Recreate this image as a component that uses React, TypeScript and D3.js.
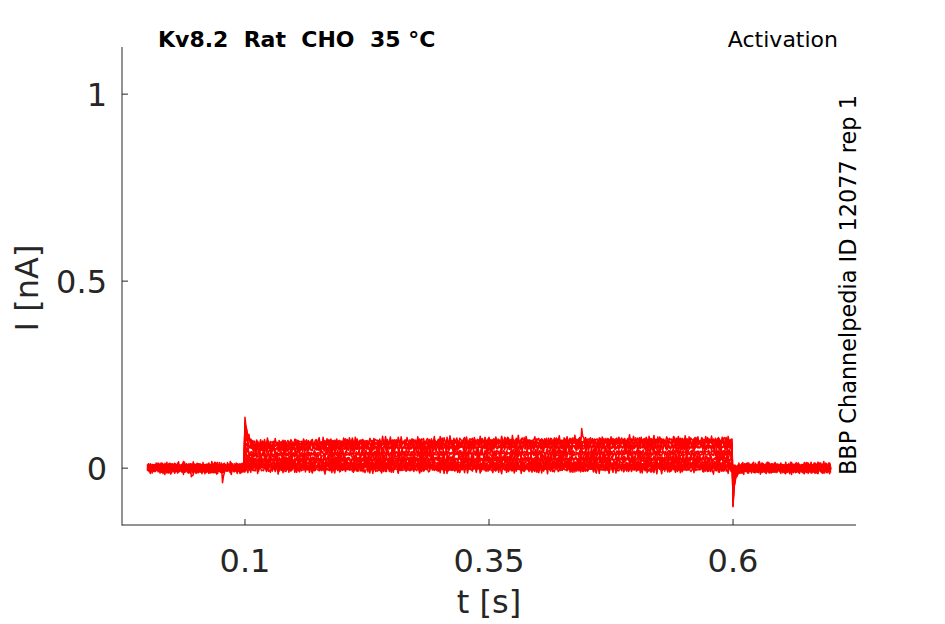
import * as d3 from "d3";

// ─── Data ─────────────────────────────────────────────────────────────────────

const TITLE = "Kv8.2  Rat  CHO  35 °C";
const PROTOCOL = "Activation";
const SOURCE = "BBP Channelpedia ID 12077 rep 1";

const X_TICKS = [0.1, 0.35, 0.6];
const Y_TICKS = [0, 0.5, 1];

const DT = 0.001; // s
const T_END = 0.7;
const STEP_ON = 0.1;
const STEP_OFF = 0.6;

// steady current of each sweep at the end of the step (nA)
const SWEEP_LEVELS = [0.0, 0.0, 0.003, 0.008, 0.014, 0.021, 0.029, 0.037, 0.045, 0.053, 0.06, 0.066, 0.071, 0.076];

// holding offset of each sweep (pA)
const BASE_OFFSET = [2, -3, 4, -1, 0, 3, -4, 1, -2, 5, -3, 2, -1, 0];

// slow activation over the step, fraction of the end level
const GROWTH_T = [0.1, 0.13, 0.2, 0.35, 0.6];
const GROWTH = [0.86, 0.9, 0.94, 0.98, 1.0];

// capacitive transients for the largest sweep (nA, one per sample)
const ONSET = [0.07, 0.048, 0.034, 0.024, 0.016, 0.011, 0.007, 0.005, 0.003, 0.002, 0.001];
const TAIL = [-0.1, -0.06, -0.035, -0.022, -0.015, -0.01, -0.007, -0.005, -0.003, -0.002, -0.001];

// recording noise, two components (pA)
const NOISE_A = [
  3, -5, 7, -2, -8, 4, 1, -6, 9, -3, 2, -7, 5, 0, -4, 8, -1, -9, 6, -2, 3, -5, 1, 7, -6, 4, -3, -8, 2, 5,
  -1, 6, -7, 3, 0, -4, 8, -2, -5, 9, -3, 1, -6, 4, 7, -8, 2, -1, 5, -4, 3, -7, 6, 0, -2, 8, -5, 1, -9, 4,
  -3, 7, -1, -6, 5, 2, -8, 3, 6, -4, 0, -7, 9, -2, 1, -5, 4, -3, 8, -6, 2, -1, 7, -4, 3, -8, 5, 0, -2, 6,
  -5, 1, -7, 4, -3, 9, -1,
];
const NOISE_B = [
  -2, 4, 0, -5, 3, 1, -3, 5, -1, -4, 2, 0, 4, -2, -5, 3, 1, -3, 5, 0, -4, 2, -1, 4, -3, 1, 5, -2, 0, -5,
  3, -1, 2, -4, 4, 0, -3, 1, 5, -2, -4, 3, 0, -1, 2, -5, 4, -3, 1, 0, -2, 5, -4,
];

// isolated glitches: [time s, extra nA, sweep index]
const GLITCHES: [number, number, number][] = [
  [0.045, -0.012, 0],
  [0.046, -0.028, 0],
  [0.047, -0.016, 0],
  [0.077, -0.036, 1],
  [0.078, -0.02, 1],
  [0.445, 0.026, 13],
  [0.446, 0.012, 13],
];

// ─── Layout ───────────────────────────────────────────────────────────────────

const W = 945;
const H = 624;
const PLOT = { left: 122, right: 856, top: 47, bottom: 525 };
const FONT = "'DejaVu Sans', sans-serif";
const INK = "#262626";

function buildSweep(k: number): [number, number][] {
  const growth = d3.scaleLinear().domain(GROWTH_T).range(GROWTH).clamp(true);
  const maxLevel = d3.max(SWEEP_LEVELS) ?? 1;
  const frac = SWEEP_LEVELS[k] / maxLevel;
  const n = Math.round(T_END / DT);
  const iOn = Math.round(STEP_ON / DT);
  const iOff = Math.round(STEP_OFF / DT);
  const pts: [number, number][] = [];
  for (let i = 0; i <= n; i++) {
    const t = i * DT;
    let v =
      (BASE_OFFSET[k] +
        NOISE_A[(i + k * 29) % NOISE_A.length] +
        NOISE_B[(i + k * 17) % NOISE_B.length]) /
      1000;
    if (i >= iOn && i < iOff) {
      v += SWEEP_LEVELS[k] * growth(t);
      if (i - iOn < ONSET.length) v += ONSET[i - iOn] * frac;
    } else if (i >= iOff && i - iOff < TAIL.length) {
      v += TAIL[i - iOff] * frac;
    }
    for (const [gt, gv, gk] of GLITCHES) {
      if (gk === k && Math.round(gt / DT) === i) v += gv;
    }
    pts.push([t, v]);
  }
  return pts;
}

export default function App() {
  const x = d3.scaleLinear().domain([-0.026, 0.726]).range([PLOT.left, PLOT.right]);
  const y = d3.scaleLinear().domain([-0.152, 1.126]).range([PLOT.bottom, PLOT.top]);

  const line = d3
    .line<[number, number]>()
    .x((d) => x(d[0]))
    .y((d) => y(d[1]));

  const sweeps = SWEEP_LEVELS.map((_, k) => buildSweep(k));

  return (
    <svg width={W} height={H} style={{ display: "block", position: "absolute", left: 0, top: 0 }} fontFamily={FONT}>
      <rect width={W} height={H} fill="#fff" />

      {/* traces */}
      <g fill="none" stroke="#ff0000" strokeWidth={1.5} strokeLinejoin="round">
        {sweeps.map((s, k) => (
          <path key={k} d={line(s) ?? ""} />
        ))}
      </g>

      {/* axes */}
      <g stroke={INK} strokeWidth={1} fill="none">
        <line x1={PLOT.left} x2={PLOT.left} y1={PLOT.top} y2={PLOT.bottom + 0.5} />
        <line x1={PLOT.left} x2={PLOT.right} y1={PLOT.bottom} y2={PLOT.bottom} />
        {X_TICKS.map((t) => (
          <line key={t} x1={x(t)} x2={x(t)} y1={PLOT.bottom} y2={PLOT.bottom - 6} />
        ))}
        {Y_TICKS.map((t) => (
          <line key={t} x1={PLOT.left} x2={PLOT.left + 6} y1={y(t)} y2={y(t)} />
        ))}
      </g>

      <g fill={INK} fontSize={32}>
        {X_TICKS.map((t) => (
          <text key={t} x={x(t)} y={572} textAnchor="middle">
            {String(t)}
          </text>
        ))}
        {Y_TICKS.map((t) => (
          <text key={t} x={107} y={y(t) + 11.5} textAnchor="end">
            {String(t)}
          </text>
        ))}
      </g>

      <text x={489} y={613} fontSize={32} fill={INK} textAnchor="middle">
        t [s]
      </text>
      <text transform={`translate(38,288) rotate(-90)`} fontSize={32} fill={INK} textAnchor="middle">
        I [nA]
      </text>

      <text x={158} y={47} fontSize={22} fontWeight="bold" fill="#000" style={{ whiteSpace: "pre" }}>
        {TITLE}
      </text>
      <text x={838} y={47} fontSize={22} fill="#000" textAnchor="end">
        {PROTOCOL}
      </text>
      <text transform={`translate(856,475) rotate(-90)`} fontSize={22.4} fill="#000">
        {SOURCE}
      </text>
    </svg>
  );
}
